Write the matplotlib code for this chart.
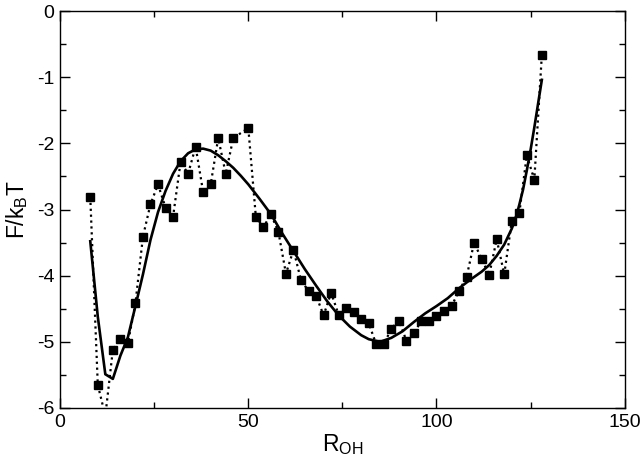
import matplotlib
matplotlib.use("Agg")
import matplotlib.pyplot as plt
from matplotlib.ticker import MultipleLocator

plt.rcParams["font.family"] = ["Liberation Sans", "DejaVu Sans"]
plt.rcParams["mathtext.fontset"] = "custom"
plt.rcParams["mathtext.rm"] = "Liberation Sans"
plt.rcParams["axes.unicode_minus"] = False

# simulation data (squares, dotted line)
r_data = [8, 10, 12, 14, 16, 18, 20, 22, 24, 26, 28, 30, 32, 34, 36, 38, 40,
          42, 44, 46, 50, 52, 54, 56, 58, 60, 62, 64, 66, 68, 70, 72, 74, 76,
          78, 80, 82, 84, 86, 88, 90, 92, 94, 96, 98, 100, 102, 104, 106, 108,
          110, 112, 114, 116, 118, 120, 122, 124, 126, 128]
f_data = [-2.81, -5.65, -6.12, -5.12, -4.95, -5.02, -4.42, -3.41, -2.92, -2.62,
          -2.97, -3.11, -2.28, -2.46, -2.05, -2.74, -2.62, -1.92, -2.46, -1.92,
          -1.77, -3.11, -3.27, -3.07, -3.34, -3.97, -3.61, -4.07, -4.23, -4.30,
          -4.60, -4.26, -4.59, -4.49, -4.55, -4.66, -4.72, -5.04, -5.04, -4.80,
          -4.68, -4.98, -4.87, -4.68, -4.68, -4.61, -4.54, -4.46, -4.23, -4.02,
          -3.50, -3.75, -3.99, -3.45, -3.98, -3.18, -3.06, -2.18, -2.55, -0.66]

# fitted curve (solid line)
r_fit = [8, 10, 12, 14, 16, 18, 20, 22, 24, 26, 28, 30, 32, 34, 36, 38, 40,
         42, 44, 46, 48, 50, 53, 56, 59, 62, 65, 68, 71, 74, 77, 80, 82, 85,
         88, 91, 94, 97, 100, 103, 106, 109, 112, 114, 116, 118, 120, 121, 122,
         123, 124, 125, 126, 127, 128]
f_fit = [-3.48, -4.62, -5.49, -5.56, -5.21, -4.93, -4.46, -3.98, -3.46, -3.04,
         -2.72, -2.46, -2.27, -2.15, -2.09, -2.08, -2.11, -2.18, -2.27, -2.37,
         -2.49, -2.62, -2.84, -3.07, -3.36, -3.63, -3.90, -4.15, -4.39, -4.60,
         -4.77, -4.90, -4.96, -5.00, -4.94, -4.84, -4.70, -4.57, -4.46, -4.34,
         -4.19, -4.06, -3.94, -3.84, -3.70, -3.53, -3.29, -3.14, -2.93, -2.70,
         -2.41, -2.10, -1.76, -1.40, -1.04]

fig = plt.figure(figsize=(6.4, 4.65), dpi=100)
ax = fig.add_axes([0.094, 0.1226, 0.882, 0.8537])

ax.plot(r_data, f_data, color="black", linestyle=":", linewidth=1.6,
        marker="s", markersize=5.4, zorder=2)
ax.plot(r_fit, f_fit, color="black", linestyle="-", linewidth=1.9, zorder=3)

ax.set_xlim(0, 150)
ax.set_ylim(-6, 0)
ax.xaxis.set_major_locator(MultipleLocator(50))
ax.xaxis.set_minor_locator(MultipleLocator(25))
ax.yaxis.set_major_locator(MultipleLocator(1))
ax.yaxis.set_minor_locator(MultipleLocator(0.5))
ax.tick_params(which="both", direction="in", top=True, right=True,
               width=1.0, labelsize=14, pad=4)
ax.tick_params(which="major", length=7.5)
ax.tick_params(which="minor", length=4.5)
for s in ax.spines.values():
    s.set_linewidth(1.0)

ax.set_xlabel(r"R$_\mathregular{OH}$", fontsize=16.5, labelpad=1)
ax.set_ylabel(r"F/k$_\mathregular{B}$T", fontsize=16.5, labelpad=5)

fig.savefig("out.png", dpi=100)
